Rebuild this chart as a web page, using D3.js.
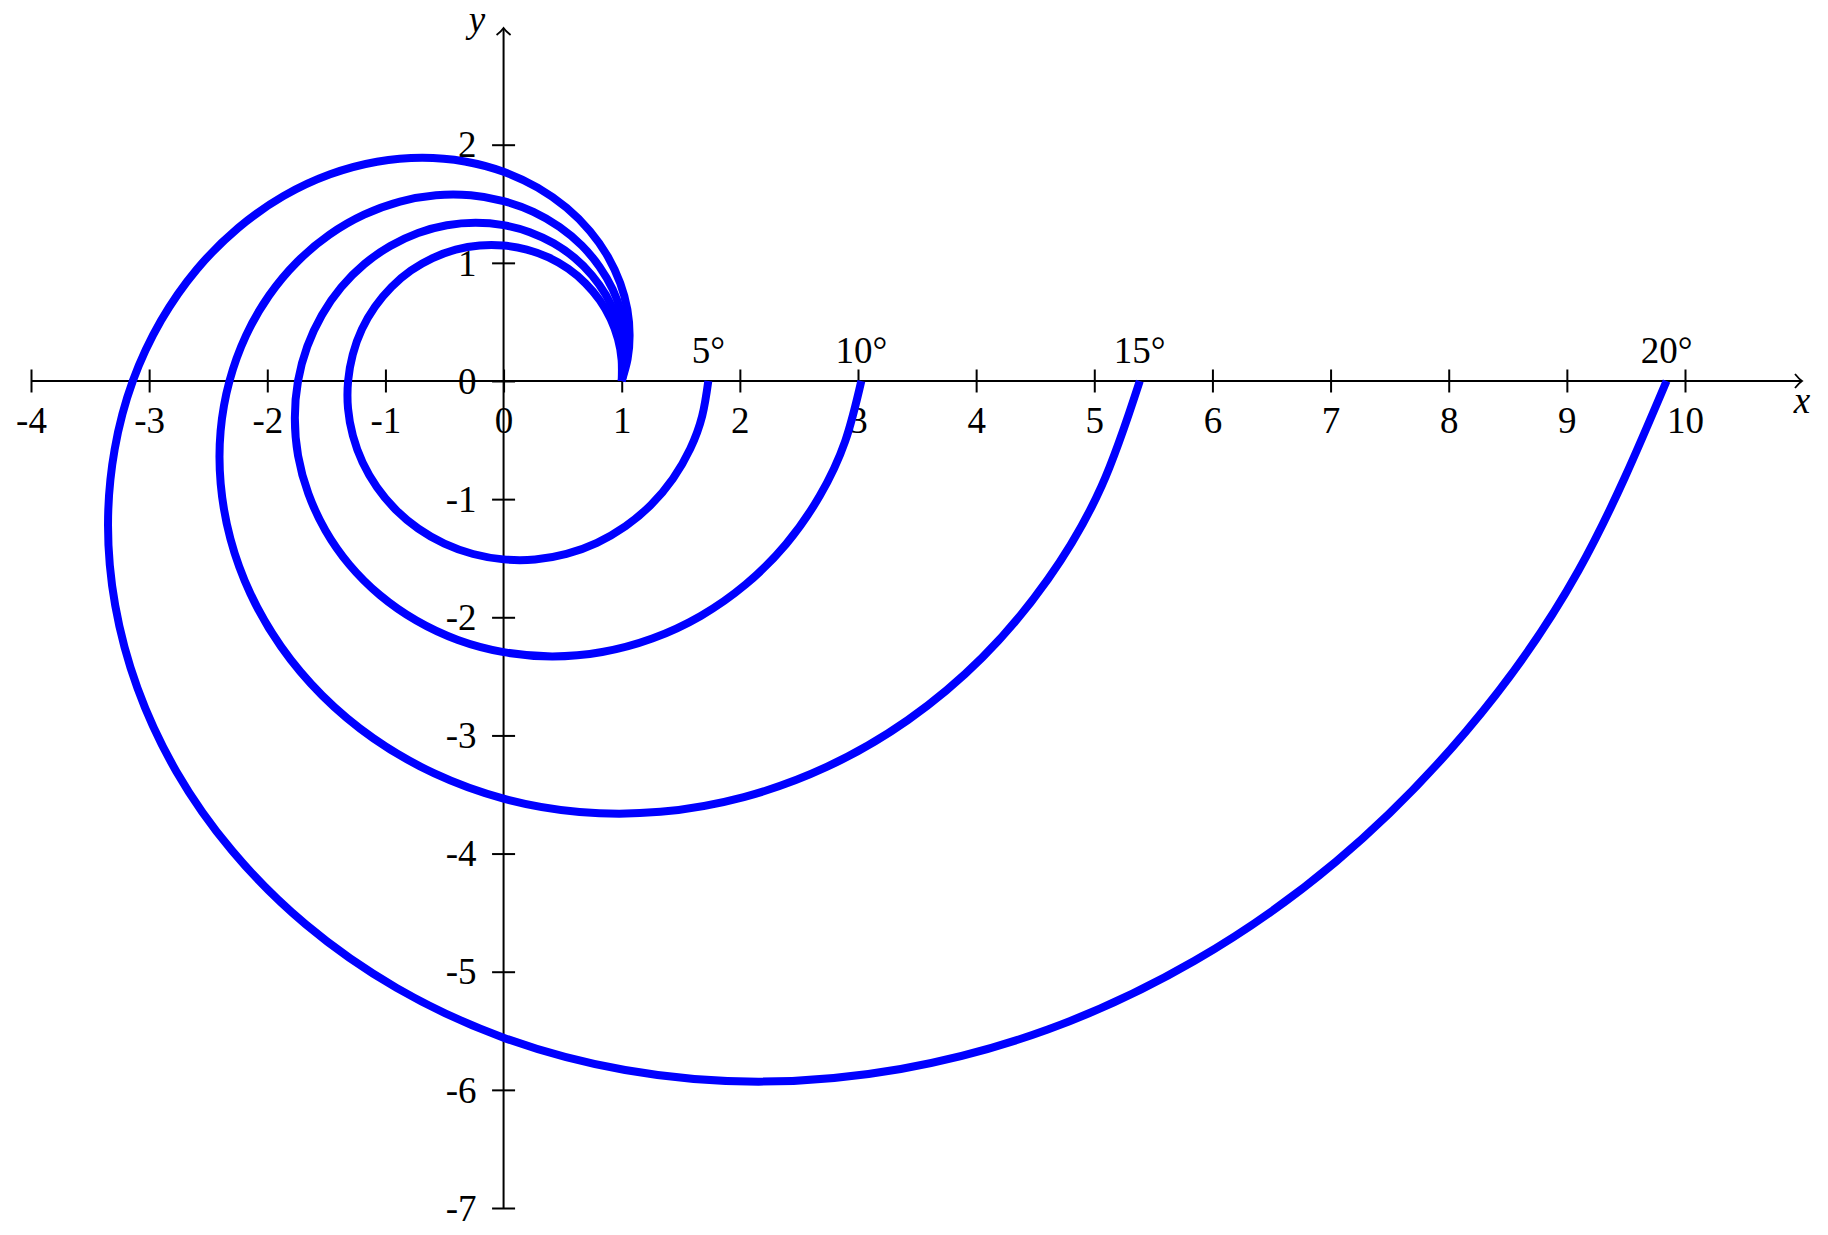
<!DOCTYPE html>
<html>
<head>
<meta charset="utf-8">
<script src="https://cdn.jsdelivr.net/npm/d3@7"></script>
<style>
  html, body { margin: 0; padding: 0; background: #fff; }
  svg { display: block; }
  text { font-family: "Liberation Serif", "DejaVu Serif", serif; fill: #000; }
</style>
</head>
<body>
<svg id="chart" width="1828" height="1235"></svg>
<script>
// Polar angles (degrees) at which each spiral's radius was read
const angles = [0,10,20,30,40,50,60,70,80,90,100,110,120,130,140,150,160,170,180,190,200,210,220,230,240,250,260,270,280,290,300,310,320,330,340,350,360];
// Radii read for each spiral (pitch angle 5°, 10°, 15°, 20°)
const r5  = [1.000,1.015,1.031,1.047,1.063,1.079,1.096,1.113,1.130,1.147,1.165,1.183,1.201,1.220,1.238,1.257,1.277,1.296,1.316,1.337,1.357,1.378,1.399,1.421,1.443,1.465,1.487,1.510,1.534,1.557,1.581,1.605,1.630,1.655,1.681,1.707,1.733];
const r10 = [1.000,1.031,1.063,1.097,1.131,1.166,1.203,1.240,1.279,1.319,1.360,1.403,1.447,1.492,1.539,1.587,1.636,1.687,1.740,1.794,1.851,1.908,1.968,2.030,2.093,2.158,2.226,2.295,2.367,2.441,2.517,2.596,2.677,2.761,2.847,2.936,3.028];
const r15 = [1.000,1.048,1.098,1.151,1.206,1.263,1.324,1.387,1.454,1.523,1.596,1.673,1.753,1.837,1.925,2.017,2.113,2.214,2.320,2.432,2.548,2.670,2.798,2.932,3.072,3.219,3.373,3.535,3.704,3.881,4.067,4.262,4.466,4.680,4.904,5.139,5.385];
const r20 = [1.000,1.066,1.135,1.210,1.289,1.374,1.464,1.560,1.662,1.771,1.887,2.011,2.143,2.284,2.434,2.593,2.763,2.944,3.138,3.343,3.563,3.796,4.045,4.311,4.593,4.895,5.216,5.558,5.922,6.311,6.724,7.166,7.635,8.136,8.670,9.239,9.844];
const seriesRadii = [r5, r10, r15, r20];
const seriesLabels = ["5°", "10°", "15°", "20°"];
const xTicks = [-4,-3,-2,-1,0,1,2,3,4,5,6,7,8,9,10];
const yTicks = [-7,-6,-5,-4,-3,-2,-1,0,1,2];

const svg = d3.select("#chart");
const x = d3.scaleLinear().domain([-4, 10]).range([31, 1685]);
const y = d3.scaleLinear().domain([-7, 2]).range([1208, 144.7]);
const FS = 37;
const TICK = 11.5;

const x0 = x(0), y0 = y(0);

// Axis lines
svg.append("line").attr("x1", x(-4)).attr("x2", 1801).attr("y1", y0).attr("y2", y0)
  .attr("stroke", "#000").attr("stroke-width", 2);
svg.append("line").attr("x1", x0).attr("x2", x0).attr("y1", y(-7)).attr("y2", 29)
  .attr("stroke", "#000").attr("stroke-width", 2);
// arrow heads
svg.append("path").attr("d", `M${1795},${y0-7} Q${1799},${y0-2} ${1802},${y0} Q${1799},${y0+2} ${1795},${y0+7}`)
  .attr("fill", "none").attr("stroke", "#000").attr("stroke-width", 1.8);
svg.append("path").attr("d", `M${x0-7},${35} Q${x0-2},${31} ${x0},${28} Q${x0+2},${31} ${x0+7},${35}`)
  .attr("fill", "none").attr("stroke", "#000").attr("stroke-width", 1.8);

// X axis ticks & labels
const gx = svg.append("g").attr("transform", `translate(0,${y0})`)
  .call(d3.axisBottom(x).tickValues(xTicks).tickSizeInner(TICK).tickSizeOuter(0).tickFormat(d => String(d)));
gx.select(".domain").remove();
gx.selectAll(".tick line").attr("y1", -TICK).attr("y2", TICK).attr("stroke", "#000").attr("stroke-width", 2);
gx.selectAll(".tick text").attr("y", 52).attr("dy", 0)
  .style("font-family", "Liberation Serif, serif").style("font-size", FS + "px").attr("fill", "#000");

// Y axis ticks & labels
const gy = svg.append("g").attr("transform", `translate(${x0},0)`)
  .call(d3.axisLeft(y).tickValues(yTicks).tickSizeInner(TICK).tickSizeOuter(0).tickFormat(d => String(d)));
gy.select(".domain").remove();
gy.selectAll(".tick line").attr("x1", -TICK).attr("x2", TICK).attr("stroke", "#000").attr("stroke-width", 2);
gy.selectAll(".tick text").attr("x", -27).attr("dy", "0.33em")
  .style("font-family", "Liberation Serif, serif").style("font-size", FS + "px").attr("fill", "#000");

// Axis names
svg.append("text").attr("x", 1802).attr("y", 413).attr("text-anchor", "middle")
  .style("font-style", "italic").style("font-size", FS + "px").text("x");
svg.append("text").attr("x", 477).attr("y", 32).attr("text-anchor", "middle")
  .style("font-style", "italic").style("font-size", FS + "px").text("y");

// Spirals
const line = d3.line().x(d => x(d[0])).y(d => y(d[1])).curve(d3.curveNatural);
seriesRadii.forEach((rs, i) => {
  const pts = angles.map((a, j) => {
    const t = a * Math.PI / 180;
    return [rs[j] * Math.cos(t), rs[j] * Math.sin(t)];
  });
  svg.append("path").attr("d", line(pts)).attr("fill", "none")
    .attr("stroke", "#0000ff").attr("stroke-width", 8).attr("stroke-linecap", "butt");
  const end = pts[pts.length - 1];
  svg.append("text").attr("x", x(end[0])).attr("y", 363).attr("text-anchor", "middle")
    .style("font-size", FS + "px").text(seriesLabels[i]);
});
</script>
</body>
</html>
